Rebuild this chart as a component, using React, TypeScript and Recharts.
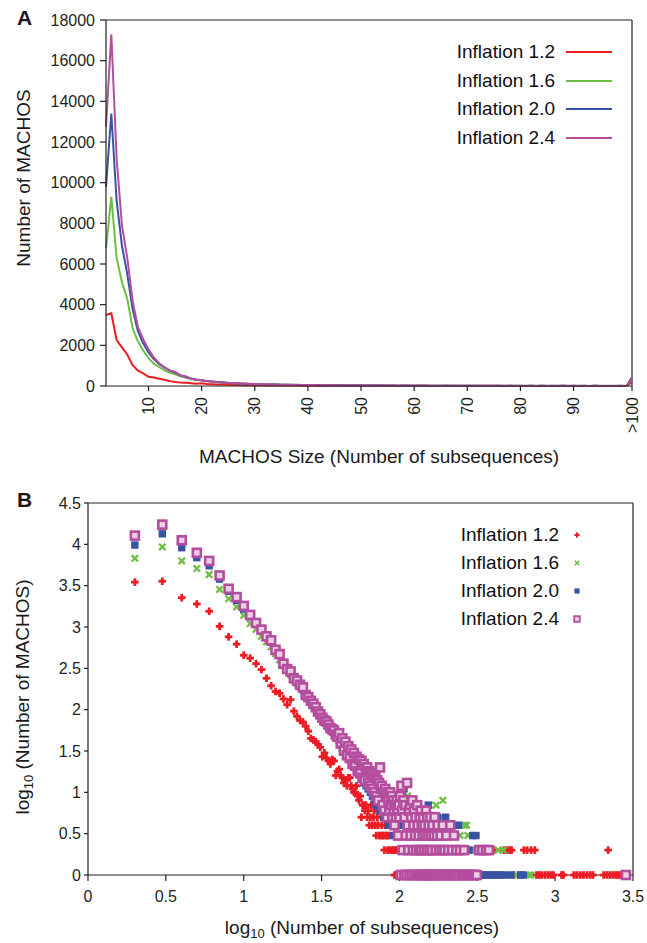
import React from "react";
import {
  LineChart,
  Line,
  ScatterChart,
  Scatter,
  XAxis,
  YAxis,
  Legend,
  ReferenceLine,
} from "recharts";

const FONT = '"Liberation Sans", Arial, Helvetica, sans-serif';
const INK = "#231f20";

const SERIES = ["Inflation 1.2", "Inflation 1.6", "Inflation 2.0", "Inflation 2.4"];
const COLORS = ["#ec1c24", "#6fbe44", "#3953a4", "#b54d9e"];

// number of MACHOS per size, sizes 2..100 (first value = size 2)
const COUNTS_12 = [
  3490, 3580, 2260, 1900, 1550, 1020, 760, 620, 455, 420,
  360, 305, 240, 195, 166, 158, 135, 115, 132, 96,
  83, 74, 71, 63, 55, 45, 43, 41, 38, 35,
  27, 30, 26, 24, 22, 25, 24, 16, 18, 19,
  16, 15, 13, 14, 12, 15, 15, 12, 11, 10,
  10, 12, 9, 8, 9, 5, 7, 7, 6, 7,
  5, 6, 4, 5, 7, 4, 5, 6, 4, 3,
  5, 4, 3, 6, 3, 4, 3, 3, 2, 4,
  3, 3, 2, 3, 2, 4, 4, 2, 4, 2,
  4, 1, 2, 2, 1, 3, 2, 1, 2,
];
const COUNTS_16 = [
  6770, 9300, 6300, 5100, 4300, 2850, 2200, 1750, 1380, 1100,
  935, 770, 660, 575, 475, 400, 345, 300, 265, 232,
  208, 188, 170, 150, 136, 124, 112, 103, 94, 86,
  80, 74, 69, 65, 61, 56, 54, 50, 48, 44,
  47, 37, 42, 33, 38, 29, 35, 25, 31, 23,
  28, 22, 26, 19, 25, 17, 23, 16, 21, 15,
  19, 13, 18, 12, 17, 11, 16, 10, 15, 9,
  14, 9, 13, 8, 12, 7, 11, 8, 10, 6,
  11, 7, 10, 5, 9, 6, 8, 5, 9, 4,
  8, 5, 7, 9, 4, 8, 5, 7, 3,
];
const COUNTS_20 = [
  9800, 13400, 9100, 6900, 5500, 3800, 2700, 2100, 1650, 1330,
  1080, 900, 760, 660, 520, 460, 365, 315, 280, 240,
  215, 195, 178, 155, 140, 126, 115, 104, 93, 86,
  79, 75, 70, 64, 60, 55, 53, 49, 46, 43,
  45, 34, 39, 31, 35, 27, 32, 24, 29, 21,
  27, 19, 24, 17, 22, 15, 20, 13, 18, 12,
  17, 11, 16, 10, 15, 9, 14, 8, 13, 7,
  12, 7, 11, 6, 12, 6, 10, 5, 11, 5,
  9, 6, 8, 4, 10, 5, 8, 4, 9, 3,
  8, 4, 7, 5, 3, 6, 8, 4, 7,
];
const COUNTS_24 = [
  12750, 17300, 11200, 7900, 6300, 4200, 2900, 2300, 1800, 1400,
  1120, 930, 770, 690, 530, 470, 360, 310, 290, 240,
  225, 200, 186, 150, 142, 128, 118, 107, 95, 88,
  80, 74, 72, 66, 60, 58, 56, 50, 47, 52,
  39, 45, 32, 41, 28, 36, 26, 33, 22, 30,
  21, 27, 18, 25, 17, 24, 15, 22, 14, 20,
  20, 13, 18, 12, 17, 11, 16, 10, 15, 9,
  14, 8, 13, 20, 11, 12, 7, 10, 6, 11,
  9, 5, 10, 8, 6, 10, 7, 9, 5, 8,
  6, 4, 7, 5, 8, 6, 3, 7, 5,
];

// the ">100" bin of panel A
const OVER_100 = [200, 340, 400, 450];

// sizes above 100 as [size, count], shown in panel B
const TAIL_12 = [
  [101, 1], [103, 2], [105, 1], [108, 1], [110, 2], [113, 1], [116, 1], [119, 2], [122, 1], [126, 1],
  [130, 1], [134, 2], [138, 1], [142, 1], [147, 1], [152, 1], [158, 1], [163, 2], [170, 1], [176, 1],
  [183, 1], [190, 1], [198, 1], [207, 1], [216, 1], [226, 1], [238, 1], [250, 1], [264, 1], [280, 1],
  [296, 1], [315, 1], [335, 1], [355, 1], [375, 1], [395, 2], [405, 2], [420, 1], [440, 1], [470, 2],
  [490, 2], [510, 2], [525, 2], [545, 1], [580, 1], [630, 2], [660, 2], [700, 2], [740, 2], [760, 1],
  [790, 1], [820, 1], [860, 1], [900, 1], [940, 1], [975, 1], [1100, 1], [1130, 1], [1320, 1], [1380, 1],
  [1450, 1], [1520, 1], [1600, 1], [1680, 1], [1750, 1], [2050, 1], [2150, 1], [2190, 2], [2250, 1], [2350, 1],
  [2450, 1], [2550, 1], [2650, 1],
];
const TAIL_16 = [
  [101, 8], [102, 2], [103, 10], [104, 5], [105, 1], [106, 7], [107, 3], [108, 12], [109, 4], [110, 2],
  [111, 6], [112, 1], [113, 9], [114, 3], [115, 5], [116, 2], [117, 7], [118, 1], [119, 4], [120, 6],
  [121, 2], [122, 3], [123, 8], [124, 1], [125, 5], [126, 2], [127, 4], [128, 6], [129, 1], [130, 3],
  [131, 7], [132, 2], [134, 4], [135, 1], [136, 5], [138, 2], [140, 3], [141, 6], [143, 1], [145, 4],
  [147, 2], [149, 5], [150, 1], [152, 3], [154, 2], [156, 7], [158, 1], [160, 4], [162, 2], [164, 3],
  [166, 1], [168, 5], [170, 2], [172, 7], [174, 1], [176, 3], [178, 4], [180, 2], [182, 1], [185, 3],
  [188, 5], [190, 8], [193, 1], [196, 2], [199, 4], [202, 1], [206, 3], [210, 2], [214, 1], [218, 3],
  [222, 2], [226, 4], [230, 3], [235, 1], [240, 2], [245, 3], [250, 1], [256, 2], [262, 4], [268, 1],
  [270, 4], [275, 3], [282, 1], [290, 2], [300, 2], [310, 1], [322, 2], [330, 1], [345, 1], [365, 1],
  [390, 1], [430, 2], [450, 1], [465, 2], [480, 1], [500, 1], [520, 1], [560, 1], [610, 1], [680, 1],
  [700, 1],
];
const TAIL_20 = [
  [101, 7], [102, 3], [103, 1], [104, 9], [105, 5], [106, 2], [107, 11], [108, 1], [109, 6], [110, 4],
  [111, 2], [112, 8], [113, 1], [114, 5], [115, 3], [116, 7], [117, 1], [118, 4], [119, 2], [120, 6],
  [121, 1], [122, 3], [123, 5], [124, 1], [125, 7], [126, 2], [127, 4], [128, 1], [129, 3], [130, 5],
  [131, 1], [132, 2], [134, 6], [135, 1], [136, 3], [138, 4], [139, 1], [140, 2], [142, 5], [143, 1],
  [145, 3], [146, 2], [148, 1], [150, 4], [152, 1], [153, 7], [155, 2], [157, 1], [158, 3], [160, 5],
  [162, 1], [164, 2], [166, 4], [168, 1], [170, 3], [172, 1], [174, 2], [176, 5], [178, 1], [181, 3],
  [184, 1], [186, 2], [189, 4], [192, 1], [195, 2], [198, 5], [201, 1], [204, 3], [208, 1], [212, 2],
  [216, 1], [220, 3], [225, 1], [230, 2], [235, 1], [240, 4], [246, 1], [252, 2], [258, 1], [265, 2],
  [272, 1], [280, 2], [288, 1], [296, 3], [305, 1], [310, 3], [320, 1], [335, 1], [350, 1], [370, 1],
  [390, 1], [410, 1], [440, 1], [470, 1], [520, 1], [600, 1], [625, 1],
];
const TAIL_24 = [
  [101, 9], [102, 1], [103, 12], [104, 6], [105, 2], [106, 8], [107, 1], [108, 5], [109, 7], [110, 3],
  [111, 1], [112, 13], [113, 4], [114, 2], [115, 6], [116, 1], [117, 7], [118, 3], [119, 5], [120, 1],
  [121, 8], [122, 2], [123, 4], [124, 6], [125, 1], [126, 3], [127, 5], [128, 2], [129, 1], [130, 7],
  [131, 4], [132, 1], [133, 3], [134, 2], [135, 5], [136, 1], [137, 6], [138, 2], [139, 4], [140, 1],
  [141, 3], [142, 5], [143, 1], [144, 2], [145, 4], [146, 1], [147, 3], [148, 6], [149, 1], [150, 2],
  [151, 5], [152, 1], [153, 3], [154, 4], [155, 1], [156, 2], [157, 1], [158, 5], [159, 3], [160, 1],
  [162, 2], [163, 4], [165, 1], [166, 3], [168, 5], [169, 1], [171, 2], [173, 1], [174, 3], [176, 4],
  [178, 1], [180, 2], [182, 1], [184, 3], [186, 1], [188, 2], [190, 4], [192, 1], [195, 2], [198, 1],
  [200, 3], [203, 1], [206, 2], [209, 1], [212, 4], [215, 1], [218, 2], [221, 1], [224, 3], [228, 1],
  [232, 2], [236, 1], [240, 1], [245, 2], [250, 1], [255, 1], [260, 2], [265, 1], [272, 1], [280, 1],
  [288, 1], [296, 1], [305, 1], [314, 1], [325, 2], [340, 2], [360, 2], [375, 2], [2850, 1],
];

const X_TICKS_A = [10, 20, 30, 40, 50, 60, 70, 80, 90, 101];
const Y_TICKS_A = [0, 2000, 4000, 6000, 8000, 10000, 12000, 14000, 16000, 18000];
const X_TICKS_B = [0, 0.5, 1, 1.5, 2, 2.5, 3, 3.5];
const Y_TICKS_B = [0, 0.5, 1, 1.5, 2, 2.5, 3, 3.5, 4, 4.5];

const ALL_COUNTS = [COUNTS_12, COUNTS_16, COUNTS_20, COUNTS_24];
const ALL_TAILS = [TAIL_12, TAIL_16, TAIL_20, TAIL_24];
const KEYS = ["i12", "i16", "i20", "i24"];

const lineData = COUNTS_12.map((_, i) => {
  const row: Record<string, number> = { size: i + 2 };
  KEYS.forEach((k, s) => (row[k] = ALL_COUNTS[s][i]));
  return row;
});
const overRow: Record<string, number> = { size: 101 };
KEYS.forEach((k, s) => (overRow[k] = OVER_100[s]));
lineData.push(overRow);

const scatterData = ALL_COUNTS.map((counts, s) => [
  ...counts.map((c, i) => ({ x: Math.log10(i + 2), y: Math.log10(c) })),
  ...ALL_TAILS[s].map(([size, c]) => ({ x: Math.log10(size), y: Math.log10(c) })),
]);

function RotatedTick(props: any) {
  const { x, y, payload } = props;
  return (
    <text
      x={x}
      y={y}
      transform={`rotate(-90, ${x}, ${y})`}
      textAnchor="end"
      dy="0.35em"
      fontSize={16}
      fill={INK}
    >
      {payload.value === 101 ? ">100" : payload.value}
    </text>
  );
}

function Marker({ index, cx, cy, legend }: { index: number; cx: number; cy: number; legend?: boolean }) {
  const k = legend ? 0.7 : 1;
  const c = COLORS[index];
  if (index === 0) {
    const a = 3.8 * k;
    const t = 1.4 * k;
    return (
      <g fill={c}>
        <rect x={cx - a} y={cy - t} width={2 * a} height={2 * t} />
        <rect x={cx - t} y={cy - a} width={2 * t} height={2 * a} />
      </g>
    );
  }
  if (index === 1) {
    const a = 3.2 * k;
    return (
      <g stroke={c} strokeWidth={2.3 * k}>
        <line x1={cx - a} y1={cy - a} x2={cx + a} y2={cy + a} />
        <line x1={cx - a} y1={cy + a} x2={cx + a} y2={cy - a} />
      </g>
    );
  }
  if (index === 2) {
    const a = 3.7 * k;
    return <rect x={cx - a} y={cy - a} width={2 * a} height={2 * a} fill={c} />;
  }
  const a = 4 * k;
  return (
    <rect
      x={cx - a}
      y={cy - a}
      width={2 * a}
      height={2 * a}
      fill="#ead0e5"
      stroke={c}
      strokeWidth={2.6 * k}
    />
  );
}

function LegendA(props: any) {
  const payload = props.payload || [];
  return (
    <div style={{ fontFamily: FONT }}>
      {payload.map((e: any) => (
        <div key={e.value} style={{ display: "flex", alignItems: "center", height: 28.5 }}>
          <span style={{ width: 125, textAlign: "right", fontSize: 19, color: "#111" }}>{e.value}</span>
          <svg width={58} height={10} style={{ marginLeft: 10 }}>
            <line x1={1} y1={5} x2={47} y2={5} stroke={e.color} strokeWidth={2} />
          </svg>
        </div>
      ))}
    </div>
  );
}

function LegendB(props: any) {
  const payload = props.payload || [];
  return (
    <div style={{ fontFamily: FONT }}>
      {payload.map((e: any) => {
        const idx = SERIES.indexOf(e.value);
        return (
          <div key={e.value} style={{ display: "flex", alignItems: "center", height: 28 }}>
            <span style={{ width: 125, textAlign: "right", fontSize: 19, color: "#111" }}>{e.value}</span>
            <svg width={20} height={12} style={{ marginLeft: 12 }}>
              <Marker index={idx} cx={6} cy={6} legend />
            </svg>
          </div>
        );
      })}
    </div>
  );
}

const titleStyle: React.CSSProperties = {
  position: "absolute",
  fontSize: 19,
  color: "#1a1a1a",
  whiteSpace: "nowrap",
  fontFamily: FONT,
};

export default function App() {
  return (
    <div style={{ position: "relative", width: 647, height: 943, fontFamily: FONT, background: "#fff" }}>
      <style>{"body{margin:0}"}</style>

      <div style={{ position: "absolute", left: 0, top: 0 }}>
        <LineChart width={647} height={470} data={lineData} margin={{ top: 20, right: 15, bottom: 0, left: 0 }}>
          <XAxis
            dataKey="size"
            type="number"
            domain={[2, 101]}
            ticks={X_TICKS_A}
            interval={0}
            height={84}
            tick={<RotatedTick />}
            tickSize={5}
            tickMargin={6}
            stroke={INK}
            strokeWidth={1.2}
          />
          <YAxis
            type="number"
            domain={[0, 18000]}
            ticks={Y_TICKS_A}
            interval={0}
            width={106}
            tickSize={6}
            tickMargin={5}
            tick={{ fontSize: 16, fill: INK }}
            stroke={INK}
            strokeWidth={1.2}
          />
          <ReferenceLine y={18000} stroke={INK} strokeWidth={1.2} />
          <ReferenceLine x={101} stroke={INK} strokeWidth={1.2} />
          {KEYS.map((k, s) => (
            <Line
              key={k}
              dataKey={k}
              name={SERIES[s]}
              type="linear"
              stroke={COLORS[s]}
              strokeWidth={2}
              dot={false}
              activeDot={false}
              isAnimationActive={false}
            />
          ))}
          <Legend
            layout="vertical"
            align="center"
            verticalAlign="middle"
            content={<LegendA />}
            wrapperStyle={{ left: 430, top: 38, width: 200, height: 116 }}
          />
        </LineChart>
      </div>

      <div style={{ position: "absolute", left: 0, top: 480 }}>
        <ScatterChart width={647} height={463} margin={{ top: 23, right: 14, bottom: 0, left: 0 }}>
          <XAxis
            dataKey="x"
            type="number"
            domain={[0, 3.5]}
            ticks={X_TICKS_B}
            interval={0}
            height={68}
            tickSize={6}
            tickMargin={10}
            tick={{ fontSize: 16, fill: INK }}
            stroke={INK}
            strokeWidth={1.2}
          />
          <YAxis
            dataKey="y"
            type="number"
            domain={[0, 4.5]}
            ticks={Y_TICKS_B}
            interval={0}
            width={88}
            tickSize={4}
            tickMargin={3}
            tick={{ fontSize: 16, fill: INK }}
            stroke={INK}
            strokeWidth={1.2}
          />
          <ReferenceLine y={4.5} stroke={INK} strokeWidth={1.2} />
          <ReferenceLine x={3.5} stroke={INK} strokeWidth={1.2} />
          {scatterData.map((pts, s) => (
            <Scatter
              key={SERIES[s]}
              name={SERIES[s]}
              data={pts}
              fill={COLORS[s]}
              isAnimationActive={false}
              shape={(p: any) => <Marker index={s} cx={p.cx} cy={p.cy} />}
            />
          ))}
          <Legend
            layout="vertical"
            align="center"
            verticalAlign="middle"
            content={<LegendB />}
            wrapperStyle={{ left: 434, top: 41, width: 200, height: 112 }}
          />
        </ScatterChart>
      </div>

      <div style={{ ...titleStyle, left: 17, top: 6, fontSize: 21, fontWeight: "bold" }}>A</div>
      <div style={{ ...titleStyle, left: 17, top: 488, fontSize: 21, fontWeight: "bold" }}>B</div>

      <div style={{ ...titleStyle, left: 24, top: 178, transform: "translate(-50%, -50%) rotate(-90deg)" }}>
        Number of MACHOS
      </div>
      <div style={{ ...titleStyle, left: 379, top: 457, transform: "translate(-50%, -50%)" }}>
        MACHOS Size (Number of subsequences)
      </div>

      <div style={{ ...titleStyle, left: 24, top: 697, transform: "translate(-50%, -50%) rotate(-90deg)" }}>
        log<sub style={{ fontSize: 13 }}>10</sub> (Number of MACHOS)
      </div>
      <div style={{ ...titleStyle, left: 362, top: 929, transform: "translate(-50%, -50%)" }}>
        log<sub style={{ fontSize: 13 }}>10</sub> (Number of subsequences)
      </div>
    </div>
  );
}
